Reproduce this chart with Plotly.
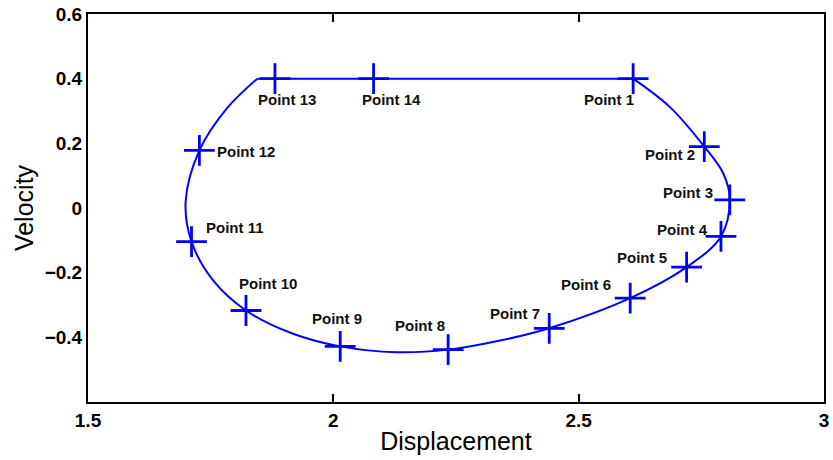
import plotly.graph_objects as go

# Marked states on the phase trajectory
point_names = ["Point 1", "Point 2", "Point 3", "Point 4", "Point 5", "Point 6", "Point 7",
               "Point 8", "Point 9", "Point 10", "Point 11", "Point 12", "Point 13", "Point 14"]
point_disp = [2.611, 2.756, 2.808, 2.790, 2.720, 2.605, 2.440,
              2.234, 2.014, 1.822, 1.711, 1.727, 1.881, 2.082]
point_vel = [0.400, 0.190, 0.025, -0.088, -0.183, -0.279, -0.372,
             -0.438, -0.428, -0.317, -0.104, 0.178, 0.400, 0.400]

# Trajectory: straight run at the velocity limit
flat_disp = [1.845, 2.611]
flat_vel = [0.400, 0.400]

# Trajectory: curved return from Point 1 round to the start of the flat run
arc_disp = [2.611, 2.686, 2.756, 2.795, 2.808, 2.790, 2.720, 2.605,
            2.440, 2.340, 2.234, 2.129, 2.014, 1.918, 1.822, 1.755, 1.711, 1.699,
            1.727, 1.783, 1.845]
arc_vel = [0.400, 0.312, 0.190, 0.106, 0.025, -0.088, -0.183, -0.279,
           -0.372, -0.410, -0.438, -0.446, -0.428, -0.389, -0.317, -0.224, -0.104, 0.020,
           0.178, 0.308, 0.400]

x_ticks = [1.5, 2, 2.5, 3]
x_tick_text = ["1.5", "2", "2.5", "3"]
y_ticks = [-0.4, -0.2, 0, 0.2, 0.4, 0.6]
y_tick_text = ["\u22120.4", "\u22120.2", "0", "0.2", "0.4", "0.6"]

# Pixel offsets of each label from its marker (right, up)
label_shift = [(-24, -21), (-34, -8), (-42, 7), (-38, 7), (-45, 10), (-44, 14), (-34, 15),
               (-28, 24), (-3, 28), (22, 27), (43, 14), (47, -1), (12, -21), (18, -21)]

BLUE = "#0000FF"
FONT = "Liberation Sans, Arial, Helvetica, sans-serif"

fig = go.Figure()

fig.add_trace(go.Scatter(x=flat_disp, y=flat_vel, mode="lines",
                         line=dict(color=BLUE, width=2), hoverinfo="skip"))
fig.add_trace(go.Scatter(x=arc_disp, y=arc_vel, mode="lines",
                         line=dict(color=BLUE, width=2, shape="spline", smoothing=1.0),
                         hoverinfo="skip"))
fig.add_trace(go.Scatter(x=point_disp, y=point_vel, mode="markers", text=point_names,
                         marker=dict(symbol="cross-thin", size=22,
                                     line=dict(color=BLUE, width=2.8))))

for name, xv, yv, (dx, dy) in zip(point_names, point_disp, point_vel, label_shift):
    fig.add_annotation(x=xv, y=yv, text=f"<b>{name}</b>", showarrow=False,
                       xanchor="center", yanchor="middle", xshift=dx, yshift=dy,
                       font=dict(family=FONT, size=15, color="#111111"))

tick_font = dict(family=FONT, size=19, color="black", weight="bold")

fig.update_layout(
    width=833, height=460,
    margin=dict(l=88, r=9, t=14, b=58),
    paper_bgcolor="white", plot_bgcolor="white",
    showlegend=False,
    font=dict(family=FONT, color="black"),
    xaxis=dict(
        range=[1.5, 3], tickvals=x_ticks, ticktext=x_tick_text,
        ticks="inside", ticklen=8, tickwidth=1.5, tickcolor="black",
        showline=True, linecolor="black", linewidth=2, mirror="ticks",
        showgrid=False, zeroline=False, automargin=False,
        tickfont=tick_font, ticklabelstandoff=0,
        title=dict(text="Displacement", standoff=3,
                   font=dict(family=FONT, size=25, color="black")),
    ),
    # left axis: labels only; tick stubs come from yaxis3
    yaxis=dict(
        range=[-0.6, 0.6], tickvals=y_ticks, ticktext=y_tick_text,
        ticks="", ticklabelstandoff=0,
        showline=True, linecolor="black", linewidth=2, mirror=True,
        showgrid=False, zeroline=False, automargin=False,
        tickfont=tick_font,
        title=dict(text="Velocity", standoff=4,
                   font=dict(family=FONT, size=25, color="black")),
    ),
    # right-hand tick marks, pointing into the plot
    yaxis2=dict(
        overlaying="y", side="right", range=[-0.6, 0.6], tickvals=y_ticks,
        ticks="inside", ticklen=8, tickwidth=1.5, tickcolor="black",
        showticklabels=False, showline=False, showgrid=False, zeroline=False,
        automargin=False,
    ),
    # left-hand tick marks, pointing outward
    yaxis3=dict(
        overlaying="y", side="left", range=[-0.6, 0.6], tickvals=y_ticks,
        ticks="outside", ticklen=6, tickwidth=1.5, tickcolor="black",
        showticklabels=False, showline=False, showgrid=False, zeroline=False,
        automargin=False,
    ),
)

fig.write_html("out.html")
